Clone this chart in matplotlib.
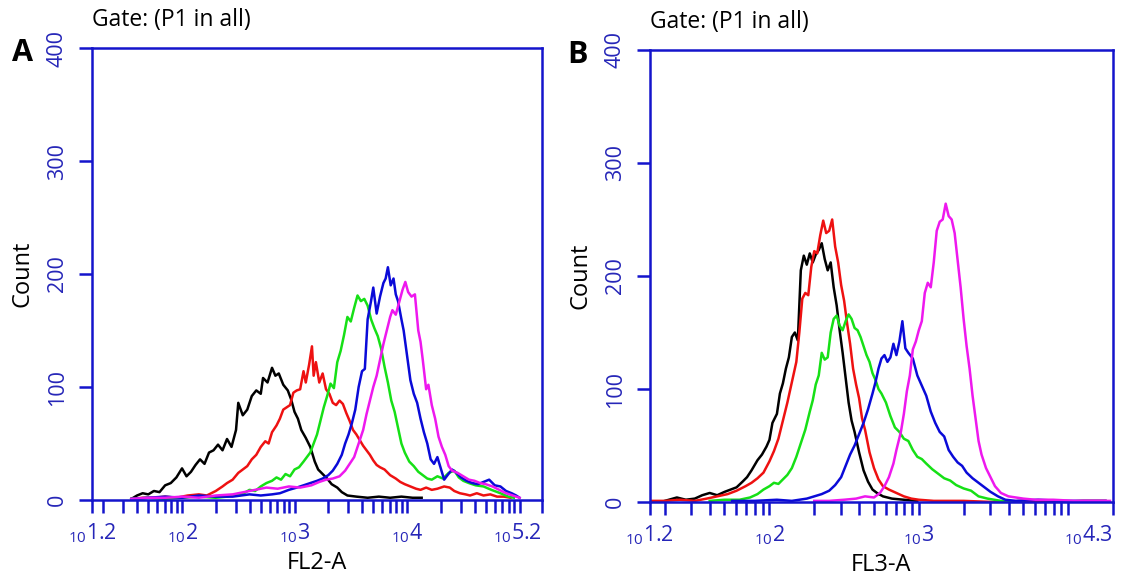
import numpy as np
import matplotlib
matplotlib.use('Agg')
import matplotlib.pyplot as plt

plt.rcParams['font.family'] = ['Open Sans', 'DejaVu Sans']
plt.rcParams['mathtext.default'] = 'regular'

# histogram traces, x in log10(channel), y in count
# panel A (FL2-A)
a_black_x = [1.55, 1.60, 1.65, 1.70, 1.75, 1.80, 1.85, 1.90, 1.95, 2.00, 2.04, 2.08, 2.12, 2.16, 2.20, 2.24,
             2.28, 2.32, 2.36, 2.40, 2.44, 2.48, 2.50, 2.54, 2.58, 2.62, 2.66, 2.70, 2.72, 2.76, 2.80, 2.83,
             2.86, 2.90, 2.94, 2.97, 3.00, 3.03, 3.06, 3.10, 3.14, 3.18, 3.21, 3.25, 3.29, 3.33, 3.38, 3.42,
             3.47, 3.55, 3.65, 3.75, 3.85, 3.95, 4.05, 4.13]
a_black_y = [1, 4, 6, 5, 8, 7, 13, 15, 20, 28, 21, 25, 31, 36, 32, 42,
             44, 49, 44, 54, 47, 62, 86, 75, 80, 92, 97, 94, 108, 104, 117, 110,
             112, 102, 97, 89, 78, 72, 62, 55, 47, 34, 27, 23, 19, 14, 11, 7,
             4, 3, 2, 3, 2, 3, 2, 2]

a_red_x = [1.55, 1.65, 1.75, 1.85, 1.95, 2.05, 2.15, 2.22, 2.30, 2.36, 2.40, 2.45, 2.50, 2.54, 2.58, 2.62,
           2.66, 2.70, 2.74, 2.77, 2.80, 2.84, 2.87, 2.90, 2.93, 2.96, 2.99, 3.02, 3.05, 3.08, 3.10, 3.13,
           3.155, 3.17, 3.19, 3.22, 3.25, 3.28, 3.31, 3.34, 3.37, 3.40, 3.43, 3.46, 3.49, 3.52, 3.55, 3.58,
           3.61, 3.64, 3.67, 3.70, 3.73, 3.76, 3.80, 3.85, 3.90, 3.94, 3.98, 4.03, 4.08, 4.12, 4.17, 4.22,
           4.27, 4.33, 4.38, 4.42, 4.47, 4.52, 4.56, 4.62, 4.68, 4.74, 4.80, 4.86, 4.92]
a_red_y = [1, 2, 2, 3, 2, 4, 5, 4, 8, 12, 15, 18, 24, 27, 30, 36,
           40, 47, 52, 50, 60, 66, 72, 80, 82, 84, 95, 97, 98, 114, 104, 120,
           136, 110, 122, 104, 112, 98, 94, 86, 84, 88, 85, 77, 70, 62, 58, 53,
           48, 44, 40, 35, 31, 29, 27, 22, 19, 16, 14, 12, 10, 9, 11, 9,
           10, 12, 11, 8, 6, 5, 4, 6, 4, 5, 3, 3, 2]

a_green_x = [1.55, 1.70, 1.85, 2.00, 2.15, 2.30, 2.40, 2.48, 2.55, 2.60, 2.65, 2.70, 2.75, 2.80, 2.84, 2.88,
             2.92, 2.96, 3.00, 3.04, 3.08, 3.11, 3.14, 3.17, 3.20, 3.23, 3.26, 3.29, 3.32, 3.35, 3.38, 3.41,
             3.44, 3.47, 3.50, 3.53, 3.56, 3.59, 3.62, 3.65, 3.68, 3.71, 3.74, 3.77, 3.80, 3.83, 3.86, 3.89,
             3.92, 3.95, 3.98, 4.02, 4.06, 4.10, 4.14, 4.18, 4.22, 4.27, 4.32, 4.37, 4.42, 4.46, 4.50, 4.55,
             4.61, 4.68, 4.75, 4.83, 4.90, 4.95]
a_green_y = [1, 2, 1, 2, 3, 2, 3, 5, 6, 9, 8, 12, 15, 17, 20, 18,
             23, 21, 27, 29, 34, 38, 42, 50, 58, 70, 82, 92, 103, 99, 122, 132,
             146, 162, 158, 170, 181, 176, 178, 172, 160, 152, 145, 134, 118, 104, 88, 78,
             64, 50, 42, 34, 30, 25, 22, 19, 18, 21, 19, 24, 26, 20, 17, 15,
             13, 12, 9, 6, 3, 2]

a_blue_x = [1.55, 1.70, 1.85, 2.00, 2.15, 2.30, 2.45, 2.60, 2.70, 2.80, 2.87, 2.95, 3.02, 3.08, 3.14, 3.20,
            3.25, 3.30, 3.34, 3.38, 3.42, 3.45, 3.48, 3.51, 3.54, 3.57, 3.60, 3.625, 3.65, 3.68, 3.70, 3.73,
            3.76, 3.79, 3.81, 3.83, 3.855, 3.88, 3.90, 3.92, 3.95, 3.97, 4.00, 4.03, 4.06, 4.09, 4.12, 4.15,
            4.18, 4.21, 4.24, 4.27, 4.30, 4.33, 4.36, 4.40, 4.44, 4.48, 4.53, 4.58, 4.63, 4.68, 4.73, 4.78,
            4.83, 4.88, 4.93, 4.97, 5.00]
a_blue_y = [1, 2, 3, 2, 4, 3, 3, 5, 4, 5, 6, 9, 11, 13, 15, 17,
            19, 22, 26, 32, 40, 50, 58, 68, 80, 100, 114, 116, 160, 176, 188, 165,
            180, 192, 196, 206, 190, 196, 182, 176, 160, 150, 128, 106, 94, 86, 72, 60,
            50, 36, 32, 38, 28, 18, 22, 27, 24, 20, 17, 15, 14, 16, 18, 13,
            12, 8, 6, 4, 2]

a_mag_x = [1.55, 1.70, 1.85, 2.00, 2.15, 2.30, 2.45, 2.55, 2.65, 2.75, 2.85, 2.95, 3.05, 3.15, 3.22, 3.28,
           3.34, 3.40, 3.45, 3.49, 3.53, 3.57, 3.61, 3.64, 3.67, 3.70, 3.73, 3.76, 3.79, 3.82, 3.85, 3.87,
           3.90, 3.93, 3.96, 3.985, 4.01, 4.04, 4.07, 4.10, 4.12, 4.14, 4.17, 4.19, 4.22, 4.25, 4.28, 4.31,
           4.34, 4.37, 4.40, 4.45, 4.50, 4.55, 4.60, 4.65, 4.70, 4.76, 4.82, 4.88, 4.94, 5.00]
a_mag_y = [1, 2, 2, 3, 2, 4, 5, 7, 9, 11, 10, 12, 11, 13, 16, 18,
           19, 21, 26, 32, 38, 50, 62, 76, 88, 100, 110, 124, 138, 150, 162, 168,
           164, 175, 186, 193, 184, 180, 182, 150, 140, 124, 98, 102, 84, 72, 56, 47,
           40, 30, 26, 24, 21, 18, 17, 15, 14, 12, 9, 6, 4, 2]

# panel B (FL3-A)
b_black_x = [1.30, 1.38, 1.44, 1.50, 1.55, 1.60, 1.65, 1.70, 1.74, 1.78, 1.82, 1.85, 1.88, 1.92, 1.95, 1.98,
             2.00, 2.02, 2.05, 2.07, 2.09, 2.11, 2.13, 2.15, 2.17, 2.19, 2.21, 2.23, 2.25, 2.27, 2.29, 2.31,
             2.33, 2.35, 2.37, 2.39, 2.41, 2.43, 2.45, 2.47, 2.49, 2.51, 2.53, 2.55, 2.57, 2.60, 2.63, 2.66,
             2.69, 2.72, 2.76, 2.82, 2.90, 2.99]
b_black_y = [1, 4, 2, 3, 6, 8, 6, 9, 11, 13, 18, 22, 28, 37, 42, 49,
             55, 70, 78, 96, 105, 118, 128, 146, 150, 143, 205, 218, 210, 220, 212, 219,
             223, 229, 215, 205, 212, 190, 174, 152, 132, 110, 88, 72, 62, 44, 28, 18,
             11, 8, 5, 3, 2, 1]

b_red_x = [1.20, 1.30, 1.40, 1.50, 1.58, 1.65, 1.72, 1.78, 1.84, 1.88, 1.92, 1.96, 2.00, 2.03, 2.06, 2.09,
           2.12, 2.15, 2.18, 2.20, 2.22, 2.24, 2.26, 2.28, 2.30, 2.32, 2.34, 2.36, 2.38, 2.40, 2.42, 2.44,
           2.46, 2.48, 2.50, 2.52, 2.54, 2.56, 2.58, 2.60, 2.62, 2.64, 2.67, 2.70, 2.73, 2.76, 2.80, 2.85,
           2.90, 2.95, 3.00, 3.10, 3.30, 3.50, 3.70, 3.90, 4.10, 4.25]
b_red_y = [1, 1, 2, 1, 3, 5, 7, 10, 14, 17, 21, 26, 36, 45, 56, 72,
           88, 106, 124, 150, 180, 185, 183, 208, 222, 220, 236, 249, 238, 240, 250, 226,
           212, 192, 178, 158, 140, 118, 104, 92, 74, 64, 44, 30, 20, 14, 11, 8,
           5, 3, 2, 1, 1, 0, 1, 0, 1, 1]

b_green_x = [1.60, 1.70, 1.80, 1.87, 1.92, 1.96, 2.00, 2.03, 2.06, 2.09, 2.12, 2.15, 2.18, 2.21, 2.24, 2.27,
             2.29, 2.31, 2.33, 2.35, 2.37, 2.39, 2.41, 2.43, 2.45, 2.47, 2.49, 2.51, 2.53, 2.55, 2.57, 2.59,
             2.61, 2.63, 2.65, 2.67, 2.69, 2.71, 2.73, 2.75, 2.78, 2.81, 2.84, 2.87, 2.90, 2.93, 2.96, 2.99,
             3.02, 3.05, 3.09, 3.13, 3.17, 3.21, 3.25, 3.30, 3.35, 3.40, 3.46, 3.55, 3.70]
b_green_y = [1, 2, 2, 4, 7, 11, 14, 17, 16, 20, 24, 30, 40, 52, 64, 80,
             90, 104, 112, 132, 126, 128, 150, 162, 165, 156, 152, 160, 166, 162, 154, 152,
             146, 138, 130, 124, 114, 108, 100, 96, 88, 76, 66, 62, 56, 54, 46, 40,
             38, 34, 29, 25, 21, 19, 15, 12, 10, 5, 3, 1, 0]

b_blue_x = [1.75, 1.90, 2.05, 2.15, 2.25, 2.30, 2.35, 2.40, 2.44, 2.48, 2.51, 2.54, 2.57, 2.60, 2.63, 2.66,
            2.69, 2.71, 2.73, 2.75, 2.77, 2.79, 2.81, 2.83, 2.85, 2.87, 2.89, 2.91, 2.93, 2.96, 2.99, 3.02,
            3.05, 3.08, 3.11, 3.14, 3.17, 3.20, 3.23, 3.26, 3.29, 3.32, 3.36, 3.40, 3.44, 3.48, 3.53, 3.58,
            3.65, 3.80, 3.95, 4.10, 4.25]
b_blue_y = [1, 1, 2, 1, 3, 5, 7, 10, 15, 22, 32, 42, 50, 60, 70, 82,
            96, 106, 118, 127, 130, 124, 128, 140, 130, 142, 160, 136, 132, 127, 112, 103,
            94, 80, 70, 62, 58, 46, 40, 35, 32, 26, 21, 17, 13, 9, 5, 2,
            1, 2, 1, 1, 1]

b_mag_x = [2.30, 2.40, 2.50, 2.58, 2.64, 2.70, 2.74, 2.77, 2.80, 2.83, 2.85, 2.88, 2.90, 2.92, 2.94, 2.96,
           2.98, 3.00, 3.02, 3.04, 3.06, 3.08, 3.10, 3.12, 3.14, 3.16, 3.18, 3.20, 3.22, 3.24, 3.26, 3.28,
           3.30, 3.32, 3.34, 3.36, 3.38, 3.40, 3.42, 3.45, 3.48, 3.51, 3.55, 3.60, 3.65, 3.70, 3.78, 3.90,
           4.05, 4.20, 4.28]
b_mag_y = [1, 1, 2, 3, 5, 4, 8, 14, 22, 34, 46, 62, 78, 98, 112, 135,
           142, 152, 160, 185, 194, 190, 212, 240, 248, 250, 264, 253, 250, 238, 214, 190,
           162, 138, 118, 94, 74, 54, 42, 30, 22, 14, 8, 5, 4, 3, 2, 2,
           1, 1, 1]

# axis settings of each panel
a_xmin, a_xmax = 1.2, 5.2
b_xmin, b_xmax = 1.2, 4.3
y_ticks = [0, 100, 200, 300, 400]

trace_colors = ['#000000', '#ee1111', '#16e016', '#0a0ad8', '#ee18ee']
axis_blue = '#1414cc'
label_blue = '#2626b8'


def exp_label(e):
    # "10" written small and low, exponent at full size
    return r'${}_{10}%s$' % e


def draw_panel(ax, traces, xmin, xmax, xlabel, letter):
    for (xs, ys), col in zip(traces, trace_colors):
        ax.plot(10 ** np.array(xs), ys, color=col, lw=1.8)

    ax.set_xscale('log')
    ax.set_xlim(10 ** xmin, 10 ** xmax)
    ax.set_ylim(0, 400)

    # one tick for every k*10^n plus the two ends, labels on decades and ends
    ticks = [10 ** xmin]
    labels = [exp_label('%.1f' % xmin)]
    for n in range(1, 6):
        for k in range(1, 10):
            v = k * 10 ** n
            if 10 ** xmin < v < 10 ** xmax:
                ticks.append(v)
                # decades too close to the right end stay unlabelled
                if k == 1 and xmax - n > 0.5:
                    labels.append(exp_label(str(n)))
                else:
                    labels.append('')
    ticks.append(10 ** xmax)
    labels.append(exp_label('%.1f' % xmax))
    ax.xaxis.set_minor_locator(plt.NullLocator())
    ax.set_xticks(ticks)
    ax.set_xticklabels(labels)
    ax.get_xticklabels()[-1].set_ha('right')

    ax.set_yticks(y_ticks)
    ax.set_yticklabels([str(t) for t in y_ticks], rotation=90, va='center')

    for s in ax.spines.values():
        s.set_color(axis_blue)
        s.set_linewidth(1.8)
    ax.tick_params(axis='both', which='major', direction='out', length=9.5, width=1.8,
                   color=axis_blue, labelcolor=label_blue, labelsize=15.5)
    ax.tick_params(axis='x', pad=6)
    ax.tick_params(axis='y', pad=8)

    ax.set_xlabel(xlabel, fontsize=17, labelpad=4)
    ax.set_ylabel('Count', fontsize=17, labelpad=9)
    ax.text(0.0, 1.035, 'Gate: (P1 in all)', transform=ax.transAxes, fontsize=16.5,
            ha='left', va='bottom')
    ax.text(-0.178, 0.99, letter, transform=ax.transAxes, fontsize=22,
            fontweight='bold', ha='left', va='center')


fig = plt.figure(figsize=(11.29, 5.84), dpi=100)
ax_a = fig.add_axes([0.0815, 0.1438, 0.3986, 0.774])
ax_b = fig.add_axes([0.5757, 0.1404, 0.4101, 0.774])

draw_panel(ax_a, [(a_black_x, a_black_y), (a_red_x, a_red_y), (a_green_x, a_green_y),
                  (a_blue_x, a_blue_y), (a_mag_x, a_mag_y)],
           a_xmin, a_xmax, 'FL2-A', 'A')
draw_panel(ax_b, [(b_black_x, b_black_y), (b_red_x, b_red_y), (b_green_x, b_green_y),
                  (b_blue_x, b_blue_y), (b_mag_x, b_mag_y)],
           b_xmin, b_xmax, 'FL3-A', 'B')

fig.savefig('out.png', dpi=100)
